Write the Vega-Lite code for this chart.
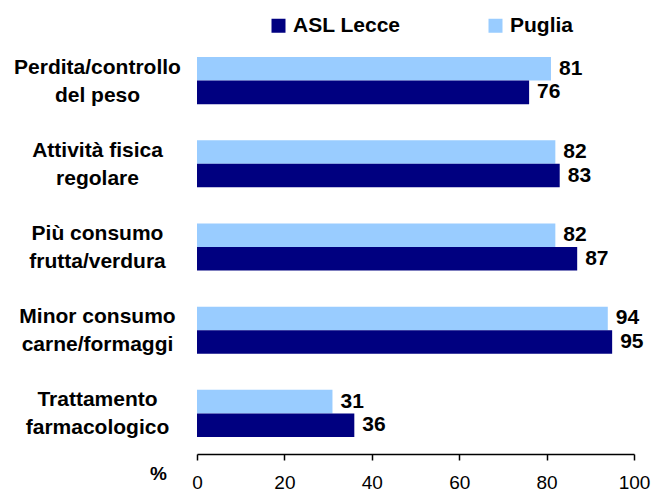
{
  "$schema": "https://vega.github.io/schema/vega-lite/v6.json",
  "autosize": "none",
  "width": 437,
  "height": 414,
  "padding": {"left": 197, "top": 40, "right": 24, "bottom": 39},
  "background": "white",
  "config": {
    "font": "Liberation Sans",
    "view": {"stroke": null}
  },
  "data": {
    "values": [
      {"cat": "Perdita/controllo|del peso", "area": "Puglia", "value": 81},
      {"cat": "Perdita/controllo|del peso", "area": "ASL Lecce", "value": 76},
      {"cat": "Attività fisica|regolare", "area": "Puglia", "value": 82},
      {"cat": "Attività fisica|regolare", "area": "ASL Lecce", "value": 83},
      {"cat": "Più consumo|frutta/verdura", "area": "Puglia", "value": 82},
      {"cat": "Più consumo|frutta/verdura", "area": "ASL Lecce", "value": 87},
      {"cat": "Minor consumo|carne/formaggi", "area": "Puglia", "value": 94},
      {"cat": "Minor consumo|carne/formaggi", "area": "ASL Lecce", "value": 95},
      {"cat": "Trattamento|farmacologico", "area": "Puglia", "value": 31},
      {"cat": "Trattamento|farmacologico", "area": "ASL Lecce", "value": 36}
    ]
  },
  "encoding": {
    "y": {
      "field": "cat",
      "type": "nominal",
      "sort": null,
      "scale": {"paddingInner": 0.434, "paddingOuter": 0.205},
      "axis": {
        "title": null,
        "domain": false,
        "ticks": false,
        "labelExpr": "split(datum.label, '|')",
        "labelAlign": "center",
        "labelPadding": 100,
        "labelOffset": -13,
        "labelFontSize": 21,
        "labelFontWeight": "bold",
        "labelColor": "black",
        "labelLineHeight": 28,
        "labelLimit": 300
      }
    },
    "yOffset": {
      "field": "area",
      "type": "nominal",
      "sort": ["Puglia", "ASL Lecce"],
      "scale": {"paddingInner": 0, "paddingOuter": 0}
    },
    "x": {
      "field": "value",
      "type": "quantitative",
      "scale": {"domain": [0, 100], "nice": false},
      "axis": {
        "values": [0, 20, 40, 60, 80, 100],
        "grid": false,
        "domainColor": "black",
        "domainWidth": 1.5,
        "tickColor": "black",
        "tickWidth": 1.5,
        "tickSize": 6,
        "labelFontSize": 19,
        "labelColor": "black",
        "labelPadding": 13,
        "labelFlush": false,
        "title": "%",
        "titleFontSize": 19,
        "titleFontWeight": "bold",
        "titleColor": "black",
        "titleAnchor": null,
        "titleX": -39,
        "titleY": 25,
        "titleAlign": "center",
        "titleBaseline": "alphabetic"
      }
    }
  },
  "layer": [
    {
      "mark": {"type": "bar"},
      "encoding": {
        "color": {
          "field": "area",
          "type": "nominal",
          "scale": {"domain": ["ASL Lecce", "Puglia"], "range": ["#000080", "#99CCFF"]},
          "legend": {
            "title": null,
            "orient": "none",
            "direction": "horizontal",
            "legendX": 71,
            "legendY": -25,
            "padding": 0,
            "symbolType": "square",
            "symbolSize": 196,
            "symbolStrokeWidth": 0,
            "labelFontSize": 21,
            "labelFontWeight": "bold",
            "labelColor": "black",
            "labelOffset": 4,
            "columnPadding": 84,
            "labelLimit": 300
          }
        }
      }
    },
    {
      "mark": {"type": "text", "align": "left", "baseline": "middle", "dx": 8, "fontSize": 21, "fontWeight": "bold", "color": "black"},
      "encoding": {
        "text": {"field": "value", "type": "quantitative"}
      }
    }
  ]
}
